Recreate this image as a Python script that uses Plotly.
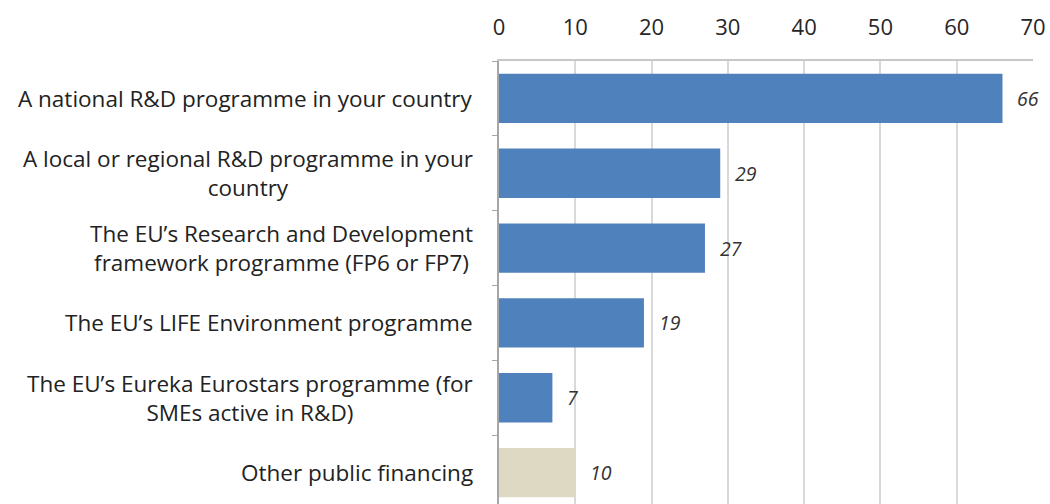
import plotly.graph_objects as go

categories = [
    "A national R&D programme in your country",
    "A local or regional R&D programme in your<br>country",
    "The EU’s Research and Development<br>framework programme (FP6 or FP7)",
    "The EU’s LIFE Environment programme",
    "The EU’s Eureka Eurostars programme (for<br>SMEs active in R&D)",
    "Other public financing",
]
values = [66, 29, 27, 19, 7, 10]
colors = ["#4F81BD", "#4F81BD", "#4F81BD", "#4F81BD", "#4F81BD", "#DDD9C3"]
x_ticks = [0, 10, 20, 30, 40, 50, 60, 70]

FONT = "Open Sans"

fig = go.Figure()
fig.add_trace(go.Bar(
    y=categories, x=values, orientation="h",
    marker=dict(color=colors, line=dict(width=0)),
    width=0.66,
))

for c, v in zip(categories, values):
    fig.add_annotation(x=v, y=c, xref="x", yref="y", text=f"<i>{v}</i>",
                       showarrow=False, xanchor="left", xshift=13,
                       font=dict(family=FONT, size=19.5, color="#333333"))
    fig.add_annotation(x=0, y=c, xref="paper", yref="y", text=c,
                       showarrow=False, xanchor="right", xshift=-24, align="center",
                       font=dict(family=FONT, size=22.5, color="#222222"))

fig.update_layout(
    width=1050, height=504,
    margin=dict(l=499, r=17, t=61, b=0),
    paper_bgcolor="white", plot_bgcolor="white",
    showlegend=False,
)
fig.update_xaxes(
    side="top", range=[0, 70], tickvals=x_ticks,
    showgrid=True, gridcolor="#D9D9D9", gridwidth=1.5,
    showline=True, linecolor="#C8C8C8", linewidth=1.5, mirror=False,
    zeroline=False, ticks="", ticklabelstandoff=15,
    tickfont=dict(family=FONT, size=22, color="#262626"),
)
fig.update_yaxes(
    type="category", categoryorder="array", categoryarray=categories,
    range=[5.42, -0.5], showticklabels=False,
    showline=True, linecolor="#A6A6A6", linewidth=1.5,
    ticks="outside", tickson="boundaries", ticklen=5, tickcolor="#A6A6A6",
    showgrid=False, zeroline=False,
)

fig.write_html("out.html")
